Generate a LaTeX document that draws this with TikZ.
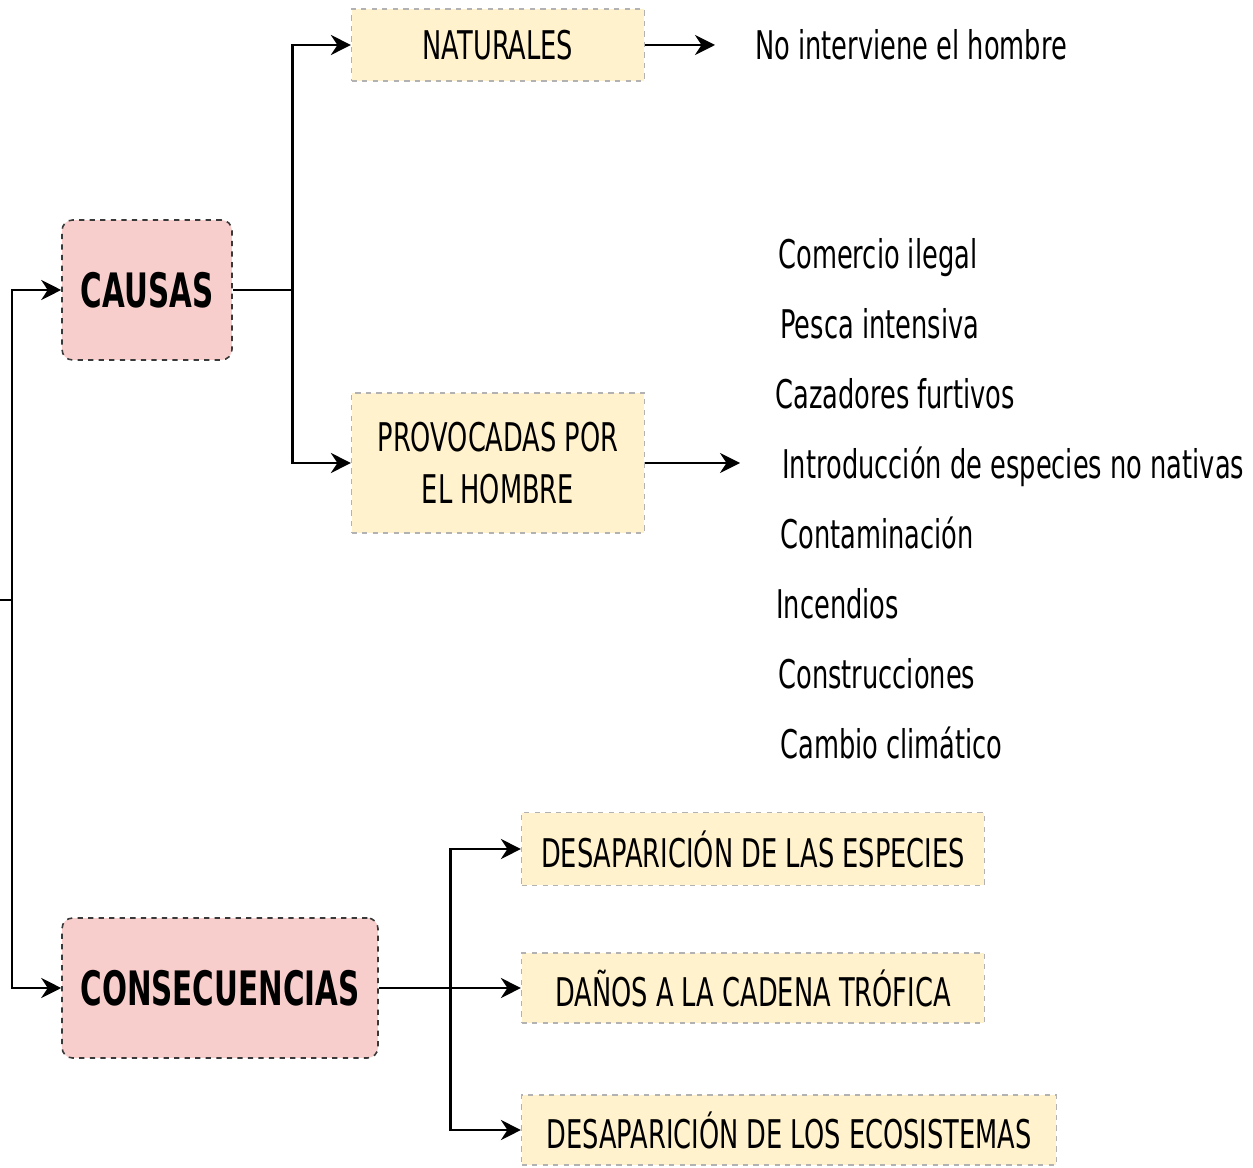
\documentclass[tikz,border=0pt]{standalone}
\usepackage{fontspec}
\setmainfont{DejaVu Sans}
\newfontfamily\boxfont[FakeStretch=0.65]{DejaVu Sans}
\newfontfamily\headfont[FakeStretch=0.62]{DejaVu Sans Bold}
\usetikzlibrary{arrows.meta,calc,positioning}
\definecolor{pinkfill}{HTML}{F8CECC}
\definecolor{yellowfill}{HTML}{FFF2CC}
\tikzset{
  headbox/.style = {draw=gray!45!black, dashed, line width=0.9pt, fill=pinkfill,
                    rounded corners=6pt, minimum height=2.8cm, inner sep=0pt,
                    font=\headfont\fontsize{27}{30}\selectfont},
  subbox/.style  = {draw=gray!60, dashed, line width=0.7pt, fill=yellowfill,
                    inner sep=0pt, align=center,
                    font=\boxfont\fontsize{22.5}{29.5}\selectfont},
  plain/.style   = {inner sep=0pt, anchor=west, text height=0.75em, text depth=0.22em,
                    font=\boxfont\fontsize{22.5}{27}\selectfont},
  arr/.style     = {-{Stealth[length=4mm,width=4mm,inset=1.3mm]}, line width=1.6pt},
  wire/.style    = {line width=1.6pt},
}
\begin{document}
\begin{tikzpicture}[x=0.02cm,y=-0.02cm]
  \useasboundingbox (0,0) rectangle (1253,1168);
  % main boxes
  \node[headbox, minimum width=3.4cm] (causas) at (147,290) {CAUSAS};
  \node[headbox, minimum width=6.32cm] (conse) at (220,988) {CONSECUENCIAS};
  % causes
  \node[subbox, minimum width=5.86cm, minimum height=1.44cm] (nat) at (498,45) {NATURALES};
  \node[subbox, minimum width=5.86cm, minimum height=2.8cm] (prov) at (498,463)
     {PROVOCADAS POR\\EL HOMBRE};
  \node[plain] (nohombre) at (755,55) {No interviene el hombre};
  \foreach \x/\t [count=\i] in {778/Comercio ilegal, 780/Pesca intensiva,
      775/Cazadores furtivos, 782/Introducción de especies no nativas,
      780/Contaminación, 776/Incendios, 778/Construcciones, 780/Cambio climático}
    \node[plain] (item\i) at (\x,{264+70*(\i-1)}) {\t};
  % consequences
  \node[subbox, minimum width=9.26cm, minimum height=1.46cm] (esp) at (753,849)
     {DESAPARICIÓN DE LAS ESPECIES};
  \node[subbox, minimum width=9.26cm, minimum height=1.4cm] (danos) at (753,988)
     {DAÑOS A LA CADENA TRÓFICA};
  \node[subbox, minimum width=10.7cm, minimum height=1.4cm] (eco) at (789,1130)
     {DESAPARICIÓN DE LOS ECOSISTEMAS};
  % connectors
  \coordinate (root) at (0,600);
  \coordinate (spine) at (12,600);
  \draw[wire] (root) -- (spine);
  \draw[arr] (spine) |- (causas.west);
  \draw[arr] (spine) |- (conse.west);
  \draw[arr] (causas.east) -- ++(60,0) |- (nat.west);
  \draw[arr] (causas.east) -- ++(60,0) |- (prov.west);
  \draw[arr, shorten >=0.8cm] (nat.east) -- (nat.east -| nohombre.west);
  \draw[arr, shorten >=0.84cm] (prov.east) -- (prov.east -| item4.west);
  \draw[arr] (conse.east) -- ++(72,0) |- (esp.west);
  \draw[arr] (conse.east) -- (danos.west);
  \draw[arr] (conse.east) -- ++(72,0) |- (eco.west);
\end{tikzpicture}
\end{document}
